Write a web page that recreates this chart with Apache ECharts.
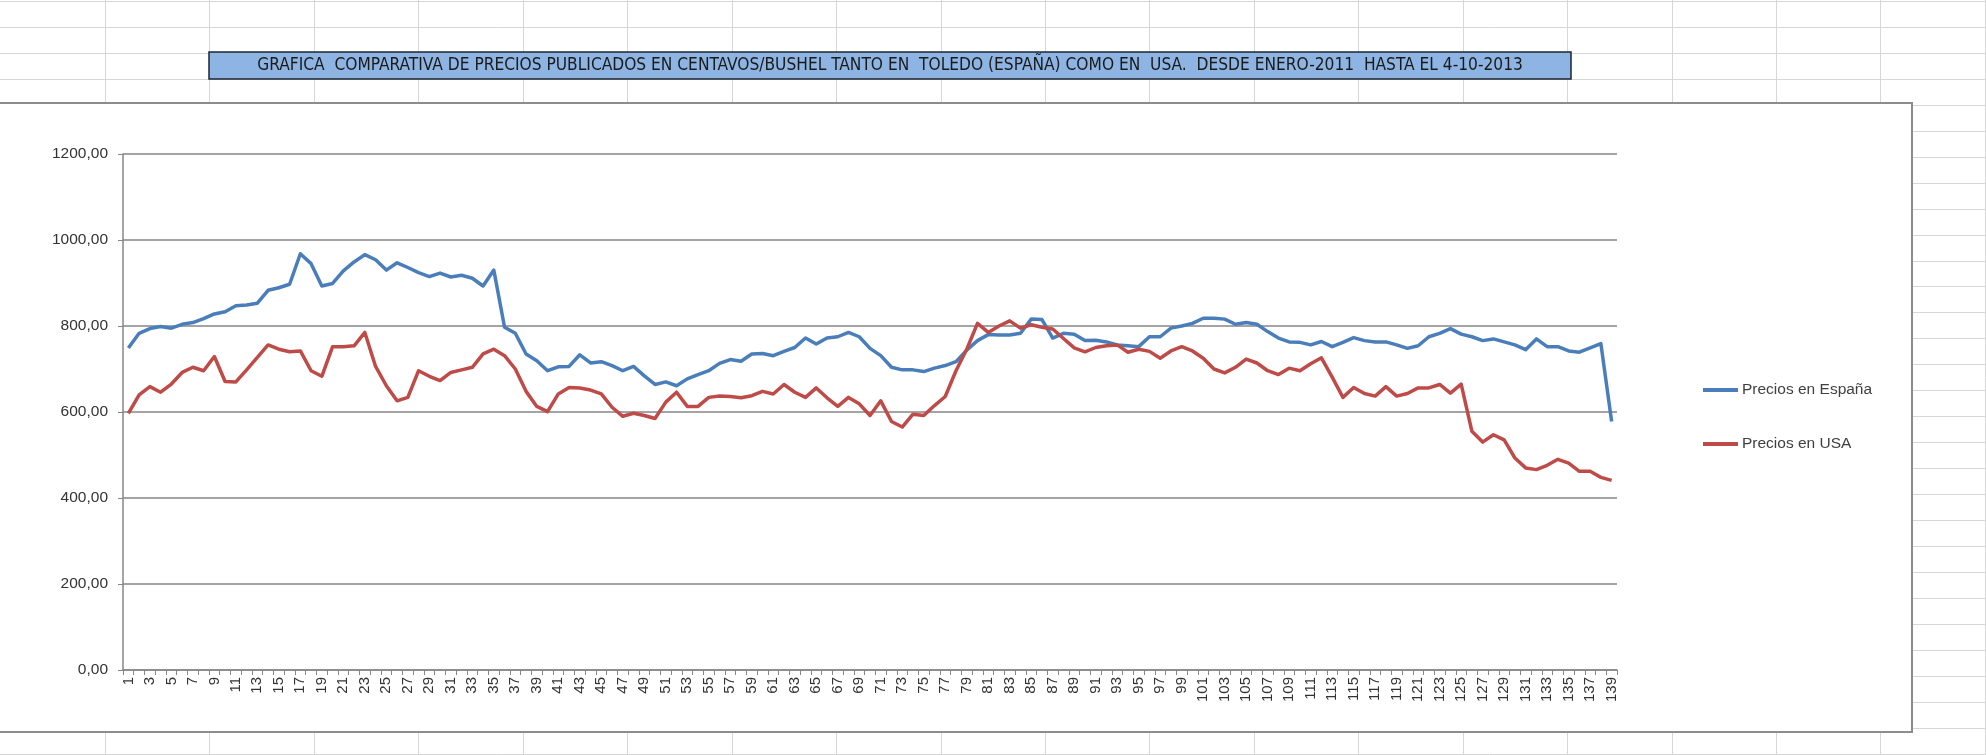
<!DOCTYPE html>
<html>
<head>
<meta charset="utf-8">
<script src="https://cdn.jsdelivr.net/npm/echarts@6/dist/echarts.min.js"></script>
<style>
html,body{margin:0;padding:0;background:#fff;}
#c{width:1986px;height:755px;}
</style>
</head>
<body>
<div id="c"></div>
<script>
const titleText = 'GRAFICA  COMPARATIVA DE PRECIOS PUBLICADOS EN CENTAVOS/BUSHEL TANTO EN  TOLEDO (ESPAÑA) COMO EN  USA.  DESDE ENERO-2011  HASTA EL 4-10-2013';
const seriesNames = ['Precios en España', 'Precios en USA'];
const categories = ['1','2','3','4','5','6','7','8','9','10','11','12','13','14','15','16','17','18','19','20',
'21','22','23','24','25','26','27','28','29','30','31','32','33','34','35','36','37','38','39','40',
'41','42','43','44','45','46','47','48','49','50','51','52','53','54','55','56','57','58','59','60',
'61','62','63','64','65','66','67','68','69','70','71','72','73','74','75','76','77','78','79','80',
'81','82','83','84','85','86','87','88','89','90','91','92','93','94','95','96','97','98','99','100',
'101','102','103','104','105','106','107','108','109','110','111','112','113','114','115','116','117','118','119','120',
'121','122','123','124','125','126','127','128','129','130','131','132','133','134','135','136','137','138','139'];
const espana = [749,783,794,799,795,804,808,817,828,833,847,849,853,883,889,897,968,945,893,899,
928,949,966,954,930,947,936,924,915,923,914,918,911,893,930,797,783,735,719,696,
705,706,733,714,717,708,696,706,684,664,670,661,677,687,696,713,722,718,735,736,
731,741,750,772,758,772,775,785,775,748,731,704,698,698,694,702,708,717,744,766,
780,779,779,783,816,815,772,783,781,766,767,763,756,754,752,775,775,795,800,806,
818,818,816,804,808,804,787,772,763,762,756,764,752,762,773,766,763,763,756,748,
754,775,783,794,781,775,766,770,763,756,745,770,752,752,742,739,749,759,578];
const usa = [597,640,659,646,665,692,704,696,729,671,670,698,727,756,746,740,742,696,683,752,
752,754,785,706,661,626,634,696,683,673,692,698,704,735,746,731,700,648,613,601,
642,657,656,651,642,611,590,597,592,585,623,646,613,613,634,637,636,633,638,648,
642,664,646,634,656,633,613,634,619,592,626,578,565,595,592,615,636,696,746,806,
785,800,812,795,803,797,793,771,749,740,750,754,756,739,746,741,725,742,752,742,
725,700,691,704,723,714,696,687,702,696,712,726,681,634,657,643,637,659,637,643,
656,656,664,644,665,555,530,547,535,493,470,466,476,490,481,462,462,448,441];
const yMin = 0, yMax = 1200, yStep = 200;

const W = 1986, H = 755;
const graphics = [];
// spreadsheet grid
for (let k = 0; k <= 29; k++) {
  const y = Math.round(1 + 25.95 * k) + 0.5;
  graphics.push({type:'line', z:-100, silent:true, shape:{x1:0,y1:y,x2:W,y2:y}, style:{stroke:'#d6d6d6', lineWidth:1}});
}
for (let k = 0; k <= 18; k++) {
  const x = Math.round(105 + 104.44 * k) + 0.5;
  graphics.push({type:'line', z:-100, silent:true, shape:{x1:x,y1:0,x2:x,y2:H}, style:{stroke:'#d6d6d6', lineWidth:1}});
}
// chart area
graphics.push({type:'rect', z:-50, silent:true, shape:{x:-3,y:103,width:1915,height:629}, style:{fill:'#ffffff', stroke:'#8c8c8c', lineWidth:2}});
// title box
graphics.push({type:'rect', z:-40, silent:true, shape:{x:209,y:52,width:1362,height:27}, style:{fill:'#8DB4E2', stroke:'#1c2633', lineWidth:1.5}});
graphics.push({type:'text', z:-30, silent:true, style:{text:titleText, x:890, y:66, fill:'#1a1a1a',
  font:'17.2px "Liberation Sans Narrow", "DejaVu Sans Condensed", sans-serif', textAlign:'center', textVerticalAlign:'middle', align:'center', verticalAlign:'middle'}});

const chart = echarts.init(document.getElementById('c'), null, {renderer:'canvas'});
chart.setOption({
  backgroundColor:'#ffffff',
  animation:false,
  graphic: graphics,
  legend: {
    orient:'vertical', left:1703, top:381, padding:0, itemWidth:35, itemHeight:4, itemGap:36, icon:'rect',
    textStyle:{fontFamily:'"Liberation Sans", sans-serif', fontSize:15.5, color:'#404040', lineHeight:18, padding:[0,0,0,-1]},
    data: seriesNames
  },
  grid: {left:123, right:369, top:154, bottom:85, containLabel:false},
  xAxis: {
    type:'category', data:categories, boundaryGap:true,
    axisLine:{lineStyle:{color:'#868686', width:1.5}},
    axisTick:{show:true, interval:0, length:5, lineStyle:{color:'#868686'}},
    axisLabel:{interval:1, rotate:90, margin:7, fontSize:15, color:'#333', fontFamily:'"Liberation Sans", sans-serif'},
    splitLine:{show:false}
  },
  yAxis: {
    type:'value', min:yMin, max:yMax, interval:yStep,
    axisLine:{show:true, lineStyle:{color:'#868686', width:1.5}},
    axisTick:{show:true, length:5, lineStyle:{color:'#868686'}},
    axisLabel:{margin:15, fontSize:15.5, color:'#333', fontFamily:'"Liberation Sans", sans-serif',
      formatter: v => v.toFixed(2).replace('.', ',')},
    splitLine:{show:true, lineStyle:{color:'#868686', width:1.5}}
  },
  series: [
    {name:seriesNames[0], type:'line', data:espana, showSymbol:false, symbol:'none', z:3,
     lineStyle:{color:'#4A7EBB', width:3.5, join:'round'}, itemStyle:{color:'#4A7EBB'}},
    {name:seriesNames[1], type:'line', data:usa, showSymbol:false, symbol:'none', z:4,
     lineStyle:{color:'#BE4B48', width:3.5, join:'round'}, itemStyle:{color:'#BE4B48'}}
  ]
});
</script>
</body>
</html>
